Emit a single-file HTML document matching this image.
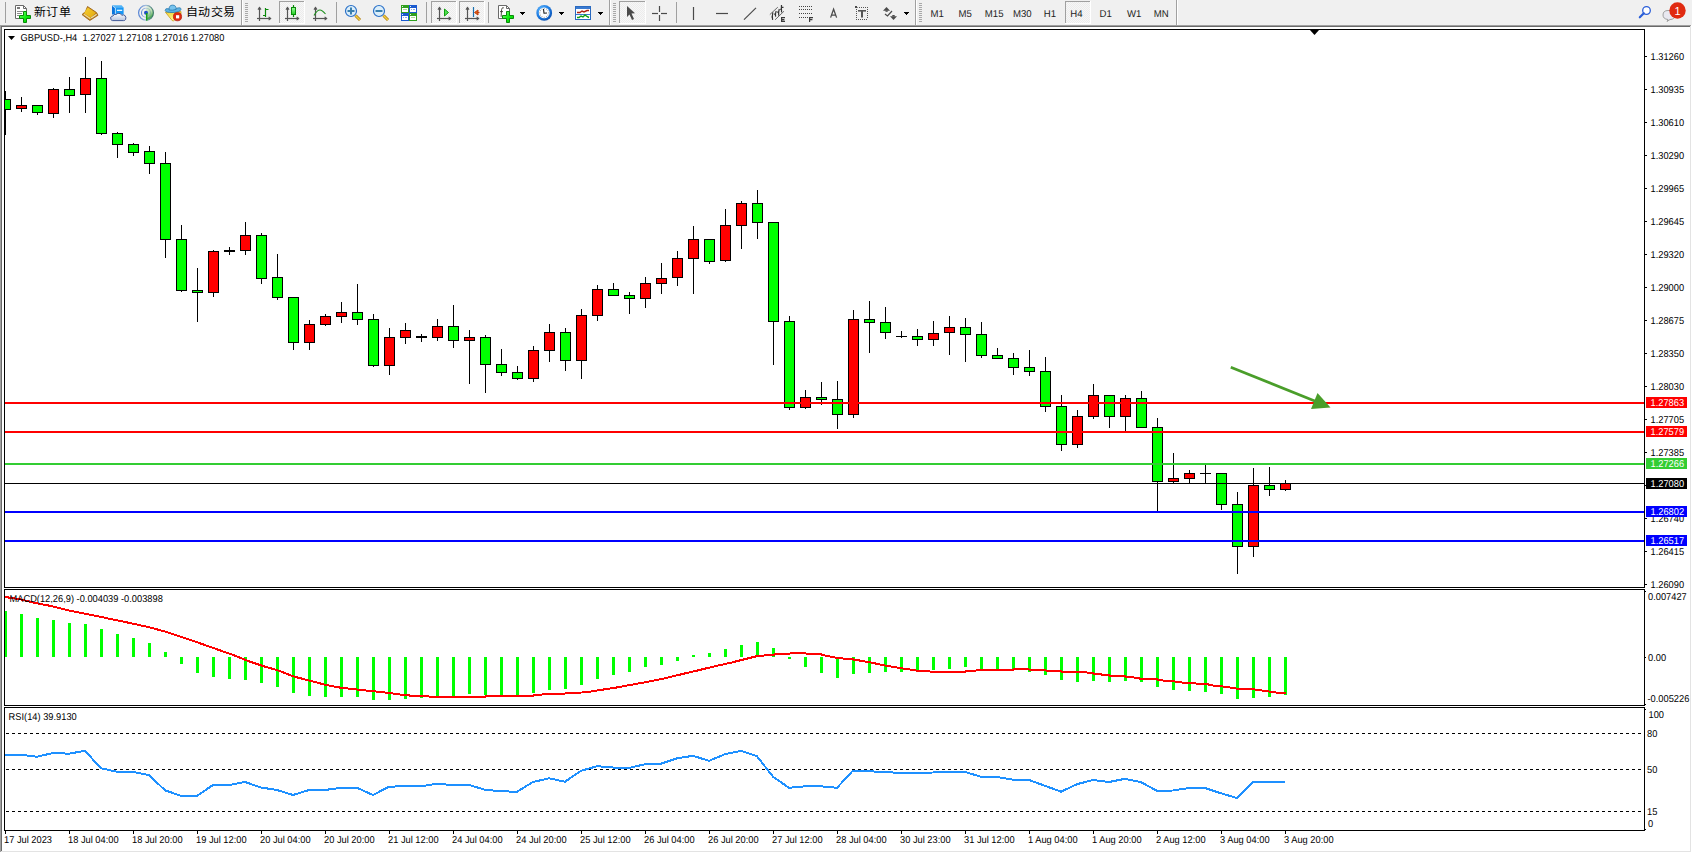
<!DOCTYPE html><html lang="zh-CN"><head><meta charset="utf-8"><title>MT4 GBPUSD H4</title><style>
html,body{margin:0;padding:0;background:#fff;}
body{width:1692px;height:853px;overflow:hidden;position:relative;font-family:"Liberation Sans", sans-serif;}
svg{position:absolute;left:0;top:0;}
text{font-family:"Liberation Sans", sans-serif;}
</style></head><body>
<svg width="1692" height="853" viewBox="0 0 1692 853">
<defs><pattern id="chk" width="2" height="2" patternUnits="userSpaceOnUse"><rect width="2" height="2" fill="#f7f7f7"/><rect width="1" height="1" fill="#ececec"/><rect x="1" y="1" width="1" height="1" fill="#ececec"/></pattern></defs>
<g shape-rendering="crispEdges">
<rect x="0" y="0" width="1692" height="25" fill="#f0f0f0"/>
<rect x="0" y="25" width="1691" height="1" fill="#a0a0a0"/>
<rect x="1" y="26" width="1690" height="1" fill="#696969"/>
<rect x="0" y="25" width="1" height="827" fill="#a0a0a0"/>
<rect x="1" y="26" width="1" height="825" fill="#696969"/>
<rect x="2" y="27" width="1688" height="824" fill="#ffffff"/>
<rect x="1690" y="26" width="1" height="826" fill="#e3e3e3"/>
<rect x="1" y="851" width="1690" height="1" fill="#e3e3e3"/>
</g>
<rect x="5" y="2" width="1" height="21" fill="#a0a0a0" shape-rendering="crispEdges"/>
<path d="M15.5 5.5 h8 l3 3 v10 h-11 z" fill="#fff" stroke="#6a6a6a" stroke-width="1"/>
<path d="M23.5 5.5 v3 h3" fill="none" stroke="#6a6a6a" stroke-width="1"/>
<rect x="17" y="7" width="3" height="2" fill="#7a7a7a"/>
<g stroke="#8a8a8a" stroke-width="1" shape-rendering="crispEdges"><line x1="17" y1="11.5" x2="23" y2="11.5"/><line x1="17" y1="13.5" x2="22" y2="13.5"/><line x1="17" y1="15.5" x2="19" y2="15.5"/></g>
<path d="M23.5 11.5 h3 v4 h4 v3 h-4 v4 h-3 v-4 h-4 v-3 h4 z" fill="url(#plusg)" stroke="#0a8a0a" stroke-width="1"/>
<text transform="matrix(1 0 0 0.92 34 16)" font-size="12" fill="#000">新订单</text>
<defs><linearGradient id="plusg" x1="0" y1="0" x2="1" y2="1"><stop offset="0" stop-color="#90ff90"/><stop offset="0.5" stop-color="#10f010"/><stop offset="1" stop-color="#00c800"/></linearGradient><linearGradient id="bookg" x1="0" y1="0" x2="1" y2="1"><stop offset="0" stop-color="#f8d030"/><stop offset="1" stop-color="#e0a810"/></linearGradient><linearGradient id="cloudg" x1="0" y1="0" x2="0" y2="1"><stop offset="0" stop-color="#ffffff"/><stop offset="1" stop-color="#b8c4dc"/></linearGradient><radialGradient id="sigg" cx="0.3" cy="0.3" r="0.9"><stop offset="0" stop-color="#f4f8ee"/><stop offset="1" stop-color="#80c080"/></radialGradient></defs>
<path d="M87.5 6.5 L96.5 12.5 L98 15.3 L89.8 20.5 L82 14.6 L85.5 11.5 Z" fill="#b87818" stroke="#9a6010" stroke-width="0.8"/>
<path d="M87.8 7.6 L95.8 12.8 L90.8 17.8 L84 13.2 Z" fill="url(#bookg)"/>
<path d="M83.3 14.6 L90 19.3 L91 18.3 L84.3 13.8 Z" fill="#f0dc90"/>
<path d="M91.5 18.5 L97 14.8 L96.3 13.8 L90.8 17.6 Z" fill="#e8e0b0"/>
<path d="M112 5.3 L121.6 5.3 L123.6 7.4 L115 7.4 Z" fill="#50b4f8"/>
<path d="M112 5.3 L115 7.4 L115 14.6 L112 14.6 Z" fill="#0a74dc"/>
<rect x="115" y="7.4" width="8.6" height="7.2" fill="#1696f4"/>
<path d="M112.4 5.8 L115.4 8 L115.4 14.2" stroke="#d8f0ff" stroke-width="0.8" fill="none"/>
<rect x="117" y="9.7" width="5.2" height="1.3" fill="#e8f6ff"/>
<path d="M111 19.4 Q109.8 16.2 113 16 Q113.6 13.8 116.2 14.4 Q117.6 12.6 120.2 13.6 Q121.3 14.3 121.8 15.3 Q123.6 14.2 125.1 15.7 Q126.5 17.6 125.5 19.6 Q125 20.6 123.5 20.6 L112.6 20.6 Q111.3 20.6 111 19.4 Z" fill="url(#cloudg)" stroke="#3a5294" stroke-width="0.95"/>
<defs><linearGradient id="sigw" x1="0" y1="0" x2="0.3" y2="1"><stop offset="0" stop-color="#f2f6ee"/><stop offset="0.55" stop-color="#b8dcb0"/><stop offset="1" stop-color="#2e9a36"/></linearGradient><linearGradient id="sigr" x1="0" y1="0" x2="1" y2="0"><stop offset="0" stop-color="#3a70d0"/><stop offset="0.5" stop-color="#9ab8d8"/><stop offset="1" stop-color="#2a6a5a"/></linearGradient><linearGradient id="sigr2" x1="0" y1="0" x2="1" y2="0"><stop offset="0" stop-color="#3a70d0"/><stop offset="0.5" stop-color="#b0c8e0"/><stop offset="1" stop-color="#80b098"/></linearGradient></defs>
<path d="M146 5.2 A7.6 7.6 0 0 1 146 20.4 Z" fill="url(#sigw)"/>
<circle cx="146" cy="12.8" r="7.4" fill="none" stroke="url(#sigr)" stroke-width="1.2" opacity="0.85"/>
<circle cx="146" cy="12.8" r="4.5" fill="none" stroke="url(#sigr2)" stroke-width="1.1" opacity="0.8"/>
<circle cx="146" cy="12.8" r="2" fill="#2050c8"/>
<path d="M146.7 13 L146.7 20.6" stroke="#18a018" stroke-width="1.5"/>
<defs><linearGradient id="faceg" x1="0" y1="0" x2="0.3" y2="1"><stop offset="0" stop-color="#f0d030"/><stop offset="1" stop-color="#fffa90"/></linearGradient></defs>
<path d="M165.4 12.2 L181 11.6 L181 14 L173.6 20.8 L172.2 20.6 Z" fill="url(#faceg)" stroke="#c89a18" stroke-width="0.8"/>
<path d="M165.2 10.6 Q165 8 168.5 8.7 Q172.5 9.9 176.5 8.3 Q181.2 6.8 181 9.4 Q180.4 12 173 12.5 Q165.6 12.7 165.2 10.6 Z" fill="#5cb2e2" stroke="#2a7ab0" stroke-width="0.8"/>
<path d="M169 10 Q168.8 5.1 172.6 5.1 Q176.2 5.1 176.2 9.4 Q172.5 10.6 169 10 Z" fill="#78c4ee" stroke="#2a7ab0" stroke-width="0.8"/>
<circle cx="177.5" cy="16.7" r="4.1" fill="#e02a10" stroke="#b01a08" stroke-width="0.7"/>
<rect x="176" y="15.2" width="3.2" height="3.2" fill="#fff"/>
<text transform="matrix(1 0 0 0.92 186 16)" font-size="12" fill="#000">自动交易</text>
<rect x="241" y="0" width="1" height="25" fill="#a0a0a0" shape-rendering="crispEdges"/>
<rect x="242" y="0" width="1" height="25" fill="#ffffff" shape-rendering="crispEdges"/>
<rect x="245" y="3" width="3" height="1" fill="#a8a8a8" shape-rendering="crispEdges"/>
<rect x="245" y="5" width="3" height="1" fill="#a8a8a8" shape-rendering="crispEdges"/>
<rect x="245" y="7" width="3" height="1" fill="#a8a8a8" shape-rendering="crispEdges"/>
<rect x="245" y="9" width="3" height="1" fill="#a8a8a8" shape-rendering="crispEdges"/>
<rect x="245" y="11" width="3" height="1" fill="#a8a8a8" shape-rendering="crispEdges"/>
<rect x="245" y="13" width="3" height="1" fill="#a8a8a8" shape-rendering="crispEdges"/>
<rect x="245" y="15" width="3" height="1" fill="#a8a8a8" shape-rendering="crispEdges"/>
<rect x="245" y="17" width="3" height="1" fill="#a8a8a8" shape-rendering="crispEdges"/>
<rect x="245" y="19" width="3" height="1" fill="#a8a8a8" shape-rendering="crispEdges"/>
<rect x="245" y="21" width="3" height="1" fill="#a8a8a8" shape-rendering="crispEdges"/>
<g stroke="#555" stroke-width="1.2" fill="none"><line x1="259.5" y1="7.5" x2="259.5" y2="21"/><line x1="257.0" y1="18.5" x2="270.6" y2="18.5"/></g>
<path d="M258.0 9.6 L259.5 7.6 L261.0 9.6" fill="none" stroke="#555" stroke-width="1.2"/>
<path d="M268.6 16.9 L270.6 18.5 L268.6 20.1" fill="none" stroke="#555" stroke-width="1.2"/>
<path d="M263 15.5 H265.5 M265.5 17 V8 M265.5 9.5 H268.5" stroke="#0a8a0a" stroke-width="1.2" fill="none"/>
<rect x="279" y="1" width="25" height="22" fill="url(#chk)" shape-rendering="crispEdges"/>
<rect x="279" y="1" width="25" height="1" fill="#a0a0a0" shape-rendering="crispEdges"/>
<rect x="279" y="1" width="1" height="22" fill="#a0a0a0" shape-rendering="crispEdges"/>
<rect x="279" y="23" width="26" height="1" fill="#ffffff" shape-rendering="crispEdges"/>
<rect x="304" y="1" width="1" height="23" fill="#ffffff" shape-rendering="crispEdges"/>
<g stroke="#555" stroke-width="1.2" fill="none"><line x1="287.5" y1="7.5" x2="287.5" y2="21"/><line x1="285.0" y1="18.5" x2="298.6" y2="18.5"/></g>
<path d="M286.0 9.6 L287.5 7.6 L289.0 9.6" fill="none" stroke="#555" stroke-width="1.2"/>
<path d="M296.6 16.9 L298.6 18.5 L296.6 20.1" fill="none" stroke="#555" stroke-width="1.2"/>
<line x1="293.5" y1="5" x2="293.5" y2="17" stroke="#0a8a0a" stroke-width="1.2"/>
<rect x="291.5" y="7.5" width="4" height="7" fill="url(#candg)" stroke="#0a8a0a" stroke-width="1"/>
<defs><linearGradient id="candg" x1="0" y1="0" x2="0" y2="1"><stop offset="0" stop-color="#a0ffa0"/><stop offset="1" stop-color="#20d020"/></linearGradient></defs>
<g stroke="#555" stroke-width="1.2" fill="none"><line x1="315.5" y1="7.5" x2="315.5" y2="21"/><line x1="313.0" y1="18.5" x2="326.6" y2="18.5"/></g>
<path d="M314.0 9.6 L315.5 7.6 L317.0 9.6" fill="none" stroke="#555" stroke-width="1.2"/>
<path d="M324.6 16.9 L326.6 18.5 L324.6 20.1" fill="none" stroke="#555" stroke-width="1.2"/>
<path d="M314 15.5 Q317 10 320 10 Q322 10 325.5 14" stroke="#209020" stroke-width="1.1" fill="none"/>
<rect x="336" y="2" width="1" height="21" fill="#a0a0a0" shape-rendering="crispEdges"/>
<line x1="355.5" y1="15.5" x2="360.0" y2="20" stroke="#b07a10" stroke-width="3"/>
<line x1="355.5" y1="15.5" x2="360.0" y2="20" stroke="#f0d040" stroke-width="1.5"/>
<circle cx="351" cy="11" r="5.5" fill="#dbeefa" stroke="#2a70c8" stroke-width="1.2"/>
<rect x="347.5" y="10" width="7" height="2" fill="#3a80b0"/>
<rect x="350" y="7.5" width="2" height="7" fill="#3a80b0"/>
<line x1="383.5" y1="15.5" x2="388.0" y2="20" stroke="#b07a10" stroke-width="3"/>
<line x1="383.5" y1="15.5" x2="388.0" y2="20" stroke="#f0d040" stroke-width="1.5"/>
<circle cx="379" cy="11" r="5.5" fill="#dbeefa" stroke="#2a70c8" stroke-width="1.2"/>
<rect x="375.5" y="10" width="7" height="2" fill="#3a80b0"/>
<rect x="401" y="5" width="8" height="8" fill="#30a020" shape-rendering="crispEdges"/>
<rect x="402" y="8" width="6" height="4" fill="#fff" shape-rendering="crispEdges"/>
<rect x="402" y="6" width="1" height="1" fill="#e8f0e8" shape-rendering="crispEdges"/>
<rect x="403" y="9" width="4" height="1" fill="#a8d898" shape-rendering="crispEdges"/>
<rect x="409" y="5" width="8" height="8" fill="#1a5ad0" shape-rendering="crispEdges"/>
<rect x="410" y="8" width="6" height="4" fill="#fff" shape-rendering="crispEdges"/>
<rect x="410" y="6" width="1" height="1" fill="#e8f0e8" shape-rendering="crispEdges"/>
<rect x="411" y="9" width="1" height="1" fill="#8aa8e8" shape-rendering="crispEdges"/>
<rect x="413" y="9" width="2" height="1" fill="#8aa8e8" shape-rendering="crispEdges"/>
<rect x="401" y="13" width="8" height="8" fill="#1a5ad0" shape-rendering="crispEdges"/>
<rect x="402" y="16" width="6" height="4" fill="#fff" shape-rendering="crispEdges"/>
<rect x="402" y="14" width="1" height="1" fill="#e8f0e8" shape-rendering="crispEdges"/>
<rect x="403" y="17" width="1" height="1" fill="#8aa8e8" shape-rendering="crispEdges"/>
<rect x="405" y="17" width="2" height="1" fill="#8aa8e8" shape-rendering="crispEdges"/>
<rect x="409" y="13" width="8" height="8" fill="#30a020" shape-rendering="crispEdges"/>
<rect x="410" y="16" width="6" height="4" fill="#fff" shape-rendering="crispEdges"/>
<rect x="410" y="14" width="1" height="1" fill="#e8f0e8" shape-rendering="crispEdges"/>
<rect x="411" y="17" width="4" height="1" fill="#a8d898" shape-rendering="crispEdges"/>
<rect x="426" y="2" width="1" height="21" fill="#a0a0a0" shape-rendering="crispEdges"/>
<rect x="431" y="1" width="25" height="22" fill="url(#chk)" shape-rendering="crispEdges"/>
<rect x="431" y="1" width="25" height="1" fill="#a0a0a0" shape-rendering="crispEdges"/>
<rect x="431" y="1" width="1" height="22" fill="#a0a0a0" shape-rendering="crispEdges"/>
<rect x="431" y="23" width="26" height="1" fill="#ffffff" shape-rendering="crispEdges"/>
<rect x="456" y="1" width="1" height="23" fill="#ffffff" shape-rendering="crispEdges"/>
<g stroke="#555" stroke-width="1.2" fill="none"><line x1="439.5" y1="7.5" x2="439.5" y2="21"/><line x1="437.0" y1="18.5" x2="450.6" y2="18.5"/></g>
<path d="M438.0 9.6 L439.5 7.6 L441.0 9.6" fill="none" stroke="#555" stroke-width="1.2"/>
<path d="M448.6 16.9 L450.6 18.5 L448.6 20.1" fill="none" stroke="#555" stroke-width="1.2"/>
<path d="M444.5 9 L448.5 12.5 L444.5 16 Z" fill="#50e050" stroke="#10a010" stroke-width="1"/>
<rect x="459" y="1" width="25" height="22" fill="url(#chk)" shape-rendering="crispEdges"/>
<rect x="459" y="1" width="25" height="1" fill="#a0a0a0" shape-rendering="crispEdges"/>
<rect x="459" y="1" width="1" height="22" fill="#a0a0a0" shape-rendering="crispEdges"/>
<rect x="459" y="23" width="26" height="1" fill="#ffffff" shape-rendering="crispEdges"/>
<rect x="484" y="1" width="1" height="23" fill="#ffffff" shape-rendering="crispEdges"/>
<g stroke="#555" stroke-width="1.2" fill="none"><line x1="467.5" y1="7.5" x2="467.5" y2="21"/><line x1="465.0" y1="18.5" x2="478.6" y2="18.5"/></g>
<path d="M466.0 9.6 L467.5 7.6 L469.0 9.6" fill="none" stroke="#555" stroke-width="1.2"/>
<path d="M476.6 16.9 L478.6 18.5 L476.6 20.1" fill="none" stroke="#555" stroke-width="1.2"/>
<line x1="473.5" y1="7" x2="473.5" y2="17" stroke="#1a70b0" stroke-width="1.2"/>
<path d="M474.5 12.5 L478 10 L478 15 Z M477 12.5 H479.5" fill="#e06010" stroke="#c04010" stroke-width="1"/>
<rect x="488" y="2" width="1" height="21" fill="#a0a0a0" shape-rendering="crispEdges"/>
<path d="M498.5 5.5 h8 l3 3 v10 h-11 z" fill="#fff" stroke="#6a6a6a" stroke-width="1"/>
<path d="M506.5 5.5 v3 h3" fill="none" stroke="#6a6a6a" stroke-width="1"/>
<path d="M503.8 7.8 Q502 7 501.6 9.5 L501.1 16.8 M500 11.6 H503" stroke="#3a3a30" stroke-width="0.9" fill="none"/>
<path d="M506.5 11.5 h3 v4 h4 v3 h-4 v4 h-3 v-4 h-4 v-3 h4 z" fill="url(#plusg)" stroke="#0a8a0a" stroke-width="1"/>
<g fill="#000" shape-rendering="crispEdges"><rect x="520" y="12" width="5" height="1"/><rect x="521" y="13" width="3" height="1"/><rect x="522" y="14" width="1" height="1"/></g>
<defs><radialGradient id="clkg" cx="0.35" cy="0.3" r="0.8"><stop offset="0" stop-color="#60b8ff"/><stop offset="0.6" stop-color="#1a78e0"/><stop offset="1" stop-color="#0a4aa8"/></radialGradient></defs>
<circle cx="544.2" cy="12.9" r="7.9" fill="url(#clkg)"/>
<circle cx="544.2" cy="12.9" r="5.4" fill="#fbfdff"/>
<rect x="543.75" y="8.05" width="0.9" height="0.9" fill="#8a8a8a"/>
<rect x="545.95" y="8.64" width="0.9" height="0.9" fill="#8a8a8a"/>
<rect x="547.56" y="10.25" width="0.9" height="0.9" fill="#8a8a8a"/>
<rect x="548.15" y="12.45" width="0.9" height="0.9" fill="#8a8a8a"/>
<rect x="547.56" y="14.65" width="0.9" height="0.9" fill="#8a8a8a"/>
<rect x="545.95" y="16.26" width="0.9" height="0.9" fill="#8a8a8a"/>
<rect x="543.75" y="16.85" width="0.9" height="0.9" fill="#8a8a8a"/>
<rect x="541.55" y="16.26" width="0.9" height="0.9" fill="#8a8a8a"/>
<rect x="539.94" y="14.65" width="0.9" height="0.9" fill="#8a8a8a"/>
<rect x="539.35" y="12.45" width="0.9" height="0.9" fill="#8a8a8a"/>
<rect x="539.94" y="10.25" width="0.9" height="0.9" fill="#8a8a8a"/>
<rect x="541.55" y="8.64" width="0.9" height="0.9" fill="#8a8a8a"/>
<path d="M543.5 9 L544 13.2 L547 13" stroke="#1a1a1a" stroke-width="1.1" fill="none"/>
<g fill="#000" shape-rendering="crispEdges"><rect x="559" y="12" width="5" height="1"/><rect x="560" y="13" width="3" height="1"/><rect x="561" y="14" width="1" height="1"/></g>
<rect x="575.5" y="6.5" width="15" height="13" fill="#fff" stroke="#2a6ac0" stroke-width="1"/>
<rect x="576" y="7" width="14" height="2" fill="#3a7ad0"/>
<rect x="576" y="14" width="14" height="1" fill="#3a7ad0"/>
<path d="M577 12.5 L580 12.5 L582 11 L584 12 L587 10.5 L589 10.5" stroke="#b02010" stroke-width="1.4" fill="none"/>
<path d="M577 17.5 L579 17.5 L581 16 L583 17 L585 15 L587 16.5 L589 17.5" stroke="#10a010" stroke-width="1.4" fill="none"/>
<g fill="#000" shape-rendering="crispEdges"><rect x="598" y="12" width="5" height="1"/><rect x="599" y="13" width="3" height="1"/><rect x="600" y="14" width="1" height="1"/></g>
<rect x="609" y="0" width="1" height="25" fill="#a0a0a0" shape-rendering="crispEdges"/>
<rect x="610" y="0" width="1" height="25" fill="#ffffff" shape-rendering="crispEdges"/>
<rect x="613" y="3" width="3" height="1" fill="#a8a8a8" shape-rendering="crispEdges"/>
<rect x="613" y="5" width="3" height="1" fill="#a8a8a8" shape-rendering="crispEdges"/>
<rect x="613" y="7" width="3" height="1" fill="#a8a8a8" shape-rendering="crispEdges"/>
<rect x="613" y="9" width="3" height="1" fill="#a8a8a8" shape-rendering="crispEdges"/>
<rect x="613" y="11" width="3" height="1" fill="#a8a8a8" shape-rendering="crispEdges"/>
<rect x="613" y="13" width="3" height="1" fill="#a8a8a8" shape-rendering="crispEdges"/>
<rect x="613" y="15" width="3" height="1" fill="#a8a8a8" shape-rendering="crispEdges"/>
<rect x="613" y="17" width="3" height="1" fill="#a8a8a8" shape-rendering="crispEdges"/>
<rect x="613" y="19" width="3" height="1" fill="#a8a8a8" shape-rendering="crispEdges"/>
<rect x="613" y="21" width="3" height="1" fill="#a8a8a8" shape-rendering="crispEdges"/>
<rect x="619" y="1" width="26" height="22" fill="url(#chk)" shape-rendering="crispEdges"/>
<rect x="619" y="1" width="26" height="1" fill="#a0a0a0" shape-rendering="crispEdges"/>
<rect x="619" y="1" width="1" height="22" fill="#a0a0a0" shape-rendering="crispEdges"/>
<rect x="619" y="23" width="27" height="1" fill="#ffffff" shape-rendering="crispEdges"/>
<rect x="645" y="1" width="1" height="23" fill="#ffffff" shape-rendering="crispEdges"/>
<path d="M627 6 L627 17 L629.5 14.5 L632 20 L634 19 L631.5 13.5 L635 13.3 Z" fill="#4a4a4a"/>
<g stroke="#4a4a4a" stroke-width="1.2"><line x1="652" y1="13.5" x2="658" y2="13.5"/><line x1="661" y1="13.5" x2="667" y2="13.5"/><line x1="659.5" y1="6" x2="659.5" y2="12"/><line x1="659.5" y1="15" x2="659.5" y2="21"/></g>
<rect x="676" y="2" width="1" height="21" fill="#a0a0a0" shape-rendering="crispEdges"/>
<line x1="693.5" y1="7" x2="693.5" y2="20" stroke="#4a4a4a" stroke-width="1.2"/>
<line x1="716" y1="13.5" x2="728" y2="13.5" stroke="#4a4a4a" stroke-width="1.2"/>
<line x1="744" y1="19.6" x2="756" y2="7.9" stroke="#4a4a4a" stroke-width="1.2"/>
<g stroke="#5a5a5a" stroke-width="0.9"><line x1="769.8" y1="14.6" x2="777.8" y2="7.2"/><line x1="775.1" y1="19.8" x2="784" y2="11.2"/></g>
<g stroke="#333" stroke-width="1.2" fill="none"><path d="M772.6 19.8 Q771.9 16 772.9 12.3"/><path d="M775.6 16.6 Q775 14 776.2 11"/><path d="M778.7 15.6 Q778.2 12 779.3 9"/><path d="M781.6 12.4 Q781.2 8 781.5 5"/><path d="M771.5 17 h1.5 M774.2 14.2 h1.5 M777.2 12.2 h1.5 M780.3 9.3 h1.6 M782 7.3 h1.5"/></g>
<path d="M781.6 17 V22 M781 17.6 H785 M781 19.6 H784.4 M781 21.4 H785" stroke="#3a3a3a" stroke-width="1.2" fill="none"/>
<line x1="799" y1="6.5" x2="812" y2="6.5" stroke="#444" stroke-width="1" stroke-dasharray="1,1"/>
<line x1="799" y1="9.5" x2="812" y2="9.5" stroke="#444" stroke-width="1" stroke-dasharray="1,1"/>
<line x1="799" y1="13.5" x2="812" y2="13.5" stroke="#444" stroke-width="1" stroke-dasharray="1,1"/>
<line x1="799" y1="17.5" x2="812" y2="17.5" stroke="#444" stroke-width="1" stroke-dasharray="1,1"/>
<path d="M809.6 17 V22 M809 17.6 H813 M809 19.6 H812.4" stroke="#3a3a3a" stroke-width="1.2" fill="none"/>
<path d="M830.6 17.6 L833.6 9.2 L836.6 17.6 M831.6 15.1 H835.6" fill="none" stroke="#4a4a4a" stroke-width="1.25"/>
<rect x="859" y="7" width="1" height="1" fill="#555" shape-rendering="crispEdges"/>
<rect x="861" y="7" width="1" height="1" fill="#555" shape-rendering="crispEdges"/>
<rect x="863" y="7" width="1" height="1" fill="#555" shape-rendering="crispEdges"/>
<rect x="865" y="7" width="1" height="1" fill="#555" shape-rendering="crispEdges"/>
<rect x="867" y="7" width="1" height="1" fill="#555" shape-rendering="crispEdges"/>
<rect x="856" y="19" width="1" height="1" fill="#555" shape-rendering="crispEdges"/>
<rect x="858" y="19" width="1" height="1" fill="#555" shape-rendering="crispEdges"/>
<rect x="860" y="19" width="1" height="1" fill="#555" shape-rendering="crispEdges"/>
<rect x="862" y="19" width="1" height="1" fill="#555" shape-rendering="crispEdges"/>
<rect x="864" y="19" width="1" height="1" fill="#555" shape-rendering="crispEdges"/>
<rect x="866" y="19" width="1" height="1" fill="#555" shape-rendering="crispEdges"/>
<rect x="856" y="9" width="1" height="1" fill="#555" shape-rendering="crispEdges"/>
<rect x="867" y="9" width="1" height="1" fill="#555" shape-rendering="crispEdges"/>
<rect x="856" y="11" width="1" height="1" fill="#555" shape-rendering="crispEdges"/>
<rect x="867" y="11" width="1" height="1" fill="#555" shape-rendering="crispEdges"/>
<rect x="856" y="13" width="1" height="1" fill="#555" shape-rendering="crispEdges"/>
<rect x="867" y="13" width="1" height="1" fill="#555" shape-rendering="crispEdges"/>
<rect x="856" y="15" width="1" height="1" fill="#555" shape-rendering="crispEdges"/>
<rect x="867" y="15" width="1" height="1" fill="#555" shape-rendering="crispEdges"/>
<rect x="856" y="17" width="1" height="1" fill="#555" shape-rendering="crispEdges"/>
<rect x="867" y="17" width="1" height="1" fill="#555" shape-rendering="crispEdges"/>
<rect x="855" y="6" width="2" height="2" fill="#4a4a4a" shape-rendering="crispEdges"/>
<rect x="857" y="7" width="1" height="1" fill="#8a8a8a" shape-rendering="crispEdges"/>
<rect x="858" y="10" width="8" height="1.6" fill="#555"/>
<rect x="861" y="10" width="2" height="7.5" fill="#555"/>
<polygon points="883,10.8 886.5,7 890,10.8" fill="#4a4a4a"/>
<rect x="885.5" y="10.5" width="2.2" height="1.3" fill="#4a4a4a"/>
<polyline points="885,14 887.5,16 892,11" fill="none" stroke="#4a4a4a" stroke-width="1.2"/>
<polygon points="890,16.2 897,16.2 893.5,20" fill="#4a4a4a"/>
<rect x="892.3" y="15" width="2.4" height="1.4" fill="#4a4a4a"/>
<g fill="#000" shape-rendering="crispEdges"><rect x="904" y="12" width="5" height="1"/><rect x="905" y="13" width="3" height="1"/><rect x="906" y="14" width="1" height="1"/></g>
<rect x="915" y="0" width="1" height="25" fill="#a0a0a0" shape-rendering="crispEdges"/>
<rect x="916" y="0" width="1" height="25" fill="#ffffff" shape-rendering="crispEdges"/>
<rect x="919" y="3" width="3" height="1" fill="#a8a8a8" shape-rendering="crispEdges"/>
<rect x="919" y="5" width="3" height="1" fill="#a8a8a8" shape-rendering="crispEdges"/>
<rect x="919" y="7" width="3" height="1" fill="#a8a8a8" shape-rendering="crispEdges"/>
<rect x="919" y="9" width="3" height="1" fill="#a8a8a8" shape-rendering="crispEdges"/>
<rect x="919" y="11" width="3" height="1" fill="#a8a8a8" shape-rendering="crispEdges"/>
<rect x="919" y="13" width="3" height="1" fill="#a8a8a8" shape-rendering="crispEdges"/>
<rect x="919" y="15" width="3" height="1" fill="#a8a8a8" shape-rendering="crispEdges"/>
<rect x="919" y="17" width="3" height="1" fill="#a8a8a8" shape-rendering="crispEdges"/>
<rect x="919" y="19" width="3" height="1" fill="#a8a8a8" shape-rendering="crispEdges"/>
<rect x="919" y="21" width="3" height="1" fill="#a8a8a8" shape-rendering="crispEdges"/>
<rect x="1065" y="1" width="25" height="22" fill="url(#chk)" shape-rendering="crispEdges"/>
<rect x="1065" y="1" width="25" height="1" fill="#a0a0a0" shape-rendering="crispEdges"/>
<rect x="1065" y="1" width="1" height="22" fill="#a0a0a0" shape-rendering="crispEdges"/>
<rect x="1065" y="23" width="26" height="1" fill="#ffffff" shape-rendering="crispEdges"/>
<rect x="1090" y="1" width="1" height="23" fill="#ffffff" shape-rendering="crispEdges"/>
<text transform="matrix(0.96 0 0.001 1 930.5 17)" font-size="10" fill="#222">M1</text>
<text transform="matrix(0.96 0 0.001 1 958.6 17)" font-size="10" fill="#222">M5</text>
<text transform="matrix(0.96 0 0.001 1 984.8 17)" font-size="10" fill="#222">M15</text>
<text transform="matrix(0.96 0 0.001 1 1012.9 17)" font-size="10" fill="#222">M30</text>
<text transform="matrix(0.96 0 0.001 1 1043.7 17)" font-size="10" fill="#222">H1</text>
<text transform="matrix(0.96 0 0.001 1 1070.3 17)" font-size="10" fill="#222">H4</text>
<text transform="matrix(0.96 0 0.001 1 1099.6 17)" font-size="10" fill="#222">D1</text>
<text transform="matrix(0.96 0 0.001 1 1127.0 17)" font-size="10" fill="#222">W1</text>
<text transform="matrix(0.96 0 0.001 1 1153.7 17)" font-size="10" fill="#222">MN</text>
<rect x="1176" y="0" width="1" height="25" fill="#a0a0a0" shape-rendering="crispEdges"/>
<rect x="1177" y="0" width="1" height="25" fill="#ffffff" shape-rendering="crispEdges"/>
<circle cx="1646.5" cy="10.5" r="3.8" fill="#fff" stroke="#2a5ed8" stroke-width="1.3"/>
<line x1="1643.8" y1="13.3" x2="1639.8" y2="17.3" stroke="#2a5ed8" stroke-width="2.2" stroke-linecap="round"/>
<path d="M1668 10.5 q-5 0 -5 4.5 q0 4 5 4.5 l-1 2 l3 -2 q5 0 5 -4.5 q0 -4.5 -5 -4.5 z" fill="#e8e8f0" stroke="#a0a0a0" stroke-width="1"/>
<circle cx="1677.5" cy="10.5" r="8.2" fill="#e02a10"/>
<text x="1677.5" y="14.8" font-size="11" fill="#fff" text-anchor="middle" font-family="Liberation Serif, serif">1</text>
<g shape-rendering="crispEdges">
<rect x="4" y="29" width="1641" height="1" fill="#000"/>
<rect x="4" y="587" width="1641" height="1" fill="#000"/>
<rect x="4" y="29" width="1" height="559" fill="#000"/>
<rect x="1644" y="29" width="1" height="559" fill="#000"/>
<rect x="4" y="589" width="1641" height="1" fill="#000"/>
<rect x="4" y="705" width="1641" height="1" fill="#000"/>
<rect x="4" y="589" width="1" height="117" fill="#000"/>
<rect x="1644" y="589" width="1" height="117" fill="#000"/>
<rect x="4" y="707" width="1641" height="1" fill="#000"/>
<rect x="4" y="830" width="1641" height="1" fill="#000"/>
<rect x="4" y="707" width="1" height="124" fill="#000"/>
<rect x="1644" y="707" width="1" height="124" fill="#000"/>
<rect x="1645" y="56" width="2" height="1" fill="#000"/>
<rect x="1645" y="89" width="2" height="1" fill="#000"/>
<rect x="1645" y="122" width="2" height="1" fill="#000"/>
<rect x="1645" y="155" width="2" height="1" fill="#000"/>
<rect x="1645" y="188" width="2" height="1" fill="#000"/>
<rect x="1645" y="221" width="2" height="1" fill="#000"/>
<rect x="1645" y="254" width="2" height="1" fill="#000"/>
<rect x="1645" y="287" width="2" height="1" fill="#000"/>
<rect x="1645" y="320" width="2" height="1" fill="#000"/>
<rect x="1645" y="353" width="2" height="1" fill="#000"/>
<rect x="1645" y="386" width="2" height="1" fill="#000"/>
<rect x="1645" y="419" width="2" height="1" fill="#000"/>
<rect x="1645" y="452" width="2" height="1" fill="#000"/>
<rect x="1645" y="485" width="2" height="1" fill="#000"/>
<rect x="1645" y="518" width="2" height="1" fill="#000"/>
<rect x="1645" y="551" width="2" height="1" fill="#000"/>
<rect x="1645" y="584" width="2" height="1" fill="#000"/>
<rect x="1645" y="591" width="1" height="1" fill="#000"/>
<rect x="1645" y="657" width="1" height="1" fill="#000"/>
<rect x="1645" y="704" width="1" height="1" fill="#000"/>
<rect x="1645" y="709" width="1" height="1" fill="#000"/>
<rect x="1645" y="829" width="1" height="1" fill="#000"/>
<rect x="5" y="831" width="1" height="3" fill="#000"/>
<rect x="69" y="831" width="1" height="3" fill="#000"/>
<rect x="133" y="831" width="1" height="3" fill="#000"/>
<rect x="197" y="831" width="1" height="3" fill="#000"/>
<rect x="261" y="831" width="1" height="3" fill="#000"/>
<rect x="325" y="831" width="1" height="3" fill="#000"/>
<rect x="389" y="831" width="1" height="3" fill="#000"/>
<rect x="453" y="831" width="1" height="3" fill="#000"/>
<rect x="517" y="831" width="1" height="3" fill="#000"/>
<rect x="581" y="831" width="1" height="3" fill="#000"/>
<rect x="645" y="831" width="1" height="3" fill="#000"/>
<rect x="709" y="831" width="1" height="3" fill="#000"/>
<rect x="773" y="831" width="1" height="3" fill="#000"/>
<rect x="837" y="831" width="1" height="3" fill="#000"/>
<rect x="901" y="831" width="1" height="3" fill="#000"/>
<rect x="965" y="831" width="1" height="3" fill="#000"/>
<rect x="1029" y="831" width="1" height="3" fill="#000"/>
<rect x="1093" y="831" width="1" height="3" fill="#000"/>
<rect x="1157" y="831" width="1" height="3" fill="#000"/>
<rect x="1221" y="831" width="1" height="3" fill="#000"/>
<rect x="1285" y="831" width="1" height="3" fill="#000"/>
</g>
<svg x="5" y="30" width="1639" height="557" viewBox="5 30 1639 557" overflow="hidden">
<g shape-rendering="crispEdges">
<rect x="5" y="91" width="1" height="44" fill="#000"/>
<rect x="0" y="99" width="11" height="11" fill="#000"/>
<rect x="1" y="100" width="9" height="9" fill="#00ff00"/>
<rect x="21" y="97" width="1" height="15" fill="#000"/>
<rect x="16" y="105" width="11" height="4" fill="#000"/>
<rect x="17" y="106" width="9" height="2" fill="#ff0000"/>
<rect x="37" y="105" width="1" height="10" fill="#000"/>
<rect x="32" y="105" width="11" height="8" fill="#000"/>
<rect x="33" y="106" width="9" height="6" fill="#00ff00"/>
<rect x="53" y="88" width="1" height="30" fill="#000"/>
<rect x="48" y="89" width="11" height="25" fill="#000"/>
<rect x="49" y="90" width="9" height="23" fill="#ff0000"/>
<rect x="69" y="77" width="1" height="36" fill="#000"/>
<rect x="64" y="89" width="11" height="7" fill="#000"/>
<rect x="65" y="90" width="9" height="5" fill="#00ff00"/>
<rect x="85" y="57" width="1" height="56" fill="#000"/>
<rect x="80" y="78" width="11" height="17" fill="#000"/>
<rect x="81" y="79" width="9" height="15" fill="#ff0000"/>
<rect x="101" y="61" width="1" height="74" fill="#000"/>
<rect x="96" y="78" width="11" height="56" fill="#000"/>
<rect x="97" y="79" width="9" height="54" fill="#00ff00"/>
<rect x="117" y="132" width="1" height="26" fill="#000"/>
<rect x="112" y="133" width="11" height="12" fill="#000"/>
<rect x="113" y="134" width="9" height="10" fill="#00ff00"/>
<rect x="133" y="143" width="1" height="13" fill="#000"/>
<rect x="128" y="144" width="11" height="9" fill="#000"/>
<rect x="129" y="145" width="9" height="7" fill="#00ff00"/>
<rect x="149" y="146" width="1" height="28" fill="#000"/>
<rect x="144" y="151" width="11" height="13" fill="#000"/>
<rect x="145" y="152" width="9" height="11" fill="#00ff00"/>
<rect x="165" y="152" width="1" height="106" fill="#000"/>
<rect x="160" y="163" width="11" height="77" fill="#000"/>
<rect x="161" y="164" width="9" height="75" fill="#00ff00"/>
<rect x="181" y="225" width="1" height="67" fill="#000"/>
<rect x="176" y="239" width="11" height="52" fill="#000"/>
<rect x="177" y="240" width="9" height="50" fill="#00ff00"/>
<rect x="197" y="268" width="1" height="54" fill="#000"/>
<rect x="192" y="290" width="11" height="3" fill="#000"/>
<rect x="193" y="291" width="9" height="1" fill="#00ff00"/>
<rect x="213" y="250" width="1" height="47" fill="#000"/>
<rect x="208" y="251" width="11" height="42" fill="#000"/>
<rect x="209" y="252" width="9" height="40" fill="#ff0000"/>
<rect x="229" y="247" width="1" height="8" fill="#000"/>
<rect x="224" y="250" width="11" height="2" fill="#000"/>
<rect x="245" y="222" width="1" height="33" fill="#000"/>
<rect x="240" y="235" width="11" height="16" fill="#000"/>
<rect x="241" y="236" width="9" height="14" fill="#ff0000"/>
<rect x="261" y="233" width="1" height="51" fill="#000"/>
<rect x="256" y="235" width="11" height="44" fill="#000"/>
<rect x="257" y="236" width="9" height="42" fill="#00ff00"/>
<rect x="277" y="254" width="1" height="46" fill="#000"/>
<rect x="272" y="277" width="11" height="21" fill="#000"/>
<rect x="273" y="278" width="9" height="19" fill="#00ff00"/>
<rect x="293" y="297" width="1" height="53" fill="#000"/>
<rect x="288" y="297" width="11" height="46" fill="#000"/>
<rect x="289" y="298" width="9" height="44" fill="#00ff00"/>
<rect x="309" y="320" width="1" height="30" fill="#000"/>
<rect x="304" y="324" width="11" height="19" fill="#000"/>
<rect x="305" y="325" width="9" height="17" fill="#ff0000"/>
<rect x="325" y="314" width="1" height="12" fill="#000"/>
<rect x="320" y="316" width="11" height="9" fill="#000"/>
<rect x="321" y="317" width="9" height="7" fill="#ff0000"/>
<rect x="341" y="302" width="1" height="21" fill="#000"/>
<rect x="336" y="312" width="11" height="5" fill="#000"/>
<rect x="337" y="313" width="9" height="3" fill="#ff0000"/>
<rect x="357" y="284" width="1" height="41" fill="#000"/>
<rect x="352" y="312" width="11" height="8" fill="#000"/>
<rect x="353" y="313" width="9" height="6" fill="#00ff00"/>
<rect x="373" y="314" width="1" height="53" fill="#000"/>
<rect x="368" y="319" width="11" height="47" fill="#000"/>
<rect x="369" y="320" width="9" height="45" fill="#00ff00"/>
<rect x="389" y="328" width="1" height="47" fill="#000"/>
<rect x="384" y="337" width="11" height="29" fill="#000"/>
<rect x="385" y="338" width="9" height="27" fill="#ff0000"/>
<rect x="405" y="323" width="1" height="21" fill="#000"/>
<rect x="400" y="330" width="11" height="8" fill="#000"/>
<rect x="401" y="331" width="9" height="6" fill="#ff0000"/>
<rect x="421" y="334" width="1" height="8" fill="#000"/>
<rect x="416" y="336" width="11" height="2" fill="#000"/>
<rect x="437" y="319" width="1" height="22" fill="#000"/>
<rect x="432" y="326" width="11" height="12" fill="#000"/>
<rect x="433" y="327" width="9" height="10" fill="#ff0000"/>
<rect x="453" y="305" width="1" height="43" fill="#000"/>
<rect x="448" y="326" width="11" height="15" fill="#000"/>
<rect x="449" y="327" width="9" height="13" fill="#00ff00"/>
<rect x="469" y="330" width="1" height="54" fill="#000"/>
<rect x="464" y="337" width="11" height="4" fill="#000"/>
<rect x="465" y="338" width="9" height="2" fill="#ff0000"/>
<rect x="485" y="335" width="1" height="58" fill="#000"/>
<rect x="480" y="337" width="11" height="28" fill="#000"/>
<rect x="481" y="338" width="9" height="26" fill="#00ff00"/>
<rect x="501" y="349" width="1" height="27" fill="#000"/>
<rect x="496" y="364" width="11" height="9" fill="#000"/>
<rect x="497" y="365" width="9" height="7" fill="#00ff00"/>
<rect x="517" y="366" width="1" height="14" fill="#000"/>
<rect x="512" y="372" width="11" height="7" fill="#000"/>
<rect x="513" y="373" width="9" height="5" fill="#00ff00"/>
<rect x="533" y="346" width="1" height="36" fill="#000"/>
<rect x="528" y="350" width="11" height="29" fill="#000"/>
<rect x="529" y="351" width="9" height="27" fill="#ff0000"/>
<rect x="549" y="324" width="1" height="38" fill="#000"/>
<rect x="544" y="332" width="11" height="19" fill="#000"/>
<rect x="545" y="333" width="9" height="17" fill="#ff0000"/>
<rect x="565" y="328" width="1" height="43" fill="#000"/>
<rect x="560" y="332" width="11" height="29" fill="#000"/>
<rect x="561" y="333" width="9" height="27" fill="#00ff00"/>
<rect x="581" y="309" width="1" height="70" fill="#000"/>
<rect x="576" y="315" width="11" height="46" fill="#000"/>
<rect x="577" y="316" width="9" height="44" fill="#ff0000"/>
<rect x="597" y="285" width="1" height="36" fill="#000"/>
<rect x="592" y="289" width="11" height="27" fill="#000"/>
<rect x="593" y="290" width="9" height="25" fill="#ff0000"/>
<rect x="613" y="283" width="1" height="13" fill="#000"/>
<rect x="608" y="289" width="11" height="7" fill="#000"/>
<rect x="609" y="290" width="9" height="5" fill="#00ff00"/>
<rect x="629" y="292" width="1" height="22" fill="#000"/>
<rect x="624" y="295" width="11" height="4" fill="#000"/>
<rect x="625" y="296" width="9" height="2" fill="#00ff00"/>
<rect x="645" y="277" width="1" height="31" fill="#000"/>
<rect x="640" y="283" width="11" height="16" fill="#000"/>
<rect x="641" y="284" width="9" height="14" fill="#ff0000"/>
<rect x="661" y="263" width="1" height="31" fill="#000"/>
<rect x="656" y="278" width="11" height="6" fill="#000"/>
<rect x="657" y="279" width="9" height="4" fill="#ff0000"/>
<rect x="677" y="251" width="1" height="35" fill="#000"/>
<rect x="672" y="258" width="11" height="20" fill="#000"/>
<rect x="673" y="259" width="9" height="18" fill="#ff0000"/>
<rect x="693" y="226" width="1" height="68" fill="#000"/>
<rect x="688" y="239" width="11" height="20" fill="#000"/>
<rect x="689" y="240" width="9" height="18" fill="#ff0000"/>
<rect x="709" y="239" width="1" height="25" fill="#000"/>
<rect x="704" y="239" width="11" height="23" fill="#000"/>
<rect x="705" y="240" width="9" height="21" fill="#00ff00"/>
<rect x="725" y="209" width="1" height="53" fill="#000"/>
<rect x="720" y="225" width="11" height="36" fill="#000"/>
<rect x="721" y="226" width="9" height="34" fill="#ff0000"/>
<rect x="741" y="201" width="1" height="48" fill="#000"/>
<rect x="736" y="203" width="11" height="23" fill="#000"/>
<rect x="737" y="204" width="9" height="21" fill="#ff0000"/>
<rect x="757" y="190" width="1" height="49" fill="#000"/>
<rect x="752" y="203" width="11" height="20" fill="#000"/>
<rect x="753" y="204" width="9" height="18" fill="#00ff00"/>
<rect x="773" y="222" width="1" height="143" fill="#000"/>
<rect x="768" y="222" width="11" height="100" fill="#000"/>
<rect x="769" y="223" width="9" height="98" fill="#00ff00"/>
<rect x="789" y="316" width="1" height="94" fill="#000"/>
<rect x="784" y="321" width="11" height="87" fill="#000"/>
<rect x="785" y="322" width="9" height="85" fill="#00ff00"/>
<rect x="805" y="390" width="1" height="19" fill="#000"/>
<rect x="800" y="397" width="11" height="11" fill="#000"/>
<rect x="801" y="398" width="9" height="9" fill="#ff0000"/>
<rect x="821" y="382" width="1" height="23" fill="#000"/>
<rect x="816" y="397" width="11" height="3" fill="#000"/>
<rect x="817" y="398" width="9" height="1" fill="#00ff00"/>
<rect x="837" y="381" width="1" height="48" fill="#000"/>
<rect x="832" y="399" width="11" height="16" fill="#000"/>
<rect x="833" y="400" width="9" height="14" fill="#00ff00"/>
<rect x="853" y="310" width="1" height="108" fill="#000"/>
<rect x="848" y="319" width="11" height="96" fill="#000"/>
<rect x="849" y="320" width="9" height="94" fill="#ff0000"/>
<rect x="869" y="301" width="1" height="52" fill="#000"/>
<rect x="864" y="319" width="11" height="4" fill="#000"/>
<rect x="865" y="320" width="9" height="2" fill="#00ff00"/>
<rect x="885" y="307" width="1" height="32" fill="#000"/>
<rect x="880" y="322" width="11" height="11" fill="#000"/>
<rect x="881" y="323" width="9" height="9" fill="#00ff00"/>
<rect x="901" y="331" width="1" height="7" fill="#000"/>
<rect x="896" y="336" width="11" height="1" fill="#000"/>
<rect x="917" y="329" width="1" height="17" fill="#000"/>
<rect x="912" y="336" width="11" height="4" fill="#000"/>
<rect x="913" y="337" width="9" height="2" fill="#00ff00"/>
<rect x="933" y="321" width="1" height="25" fill="#000"/>
<rect x="928" y="333" width="11" height="7" fill="#000"/>
<rect x="929" y="334" width="9" height="5" fill="#ff0000"/>
<rect x="949" y="316" width="1" height="39" fill="#000"/>
<rect x="944" y="327" width="11" height="6" fill="#000"/>
<rect x="945" y="328" width="9" height="4" fill="#ff0000"/>
<rect x="965" y="318" width="1" height="44" fill="#000"/>
<rect x="960" y="327" width="11" height="8" fill="#000"/>
<rect x="961" y="328" width="9" height="6" fill="#00ff00"/>
<rect x="981" y="322" width="1" height="36" fill="#000"/>
<rect x="976" y="334" width="11" height="22" fill="#000"/>
<rect x="977" y="335" width="9" height="20" fill="#00ff00"/>
<rect x="997" y="348" width="1" height="11" fill="#000"/>
<rect x="992" y="355" width="11" height="4" fill="#000"/>
<rect x="993" y="356" width="9" height="2" fill="#00ff00"/>
<rect x="1013" y="353" width="1" height="22" fill="#000"/>
<rect x="1008" y="358" width="11" height="10" fill="#000"/>
<rect x="1009" y="359" width="9" height="8" fill="#00ff00"/>
<rect x="1029" y="350" width="1" height="26" fill="#000"/>
<rect x="1024" y="367" width="11" height="5" fill="#000"/>
<rect x="1025" y="368" width="9" height="3" fill="#00ff00"/>
<rect x="1045" y="357" width="1" height="55" fill="#000"/>
<rect x="1040" y="371" width="11" height="36" fill="#000"/>
<rect x="1041" y="372" width="9" height="34" fill="#00ff00"/>
<rect x="1061" y="395" width="1" height="56" fill="#000"/>
<rect x="1056" y="406" width="11" height="39" fill="#000"/>
<rect x="1057" y="407" width="9" height="37" fill="#00ff00"/>
<rect x="1077" y="410" width="1" height="38" fill="#000"/>
<rect x="1072" y="416" width="11" height="29" fill="#000"/>
<rect x="1073" y="417" width="9" height="27" fill="#ff0000"/>
<rect x="1093" y="384" width="1" height="35" fill="#000"/>
<rect x="1088" y="395" width="11" height="22" fill="#000"/>
<rect x="1089" y="396" width="9" height="20" fill="#ff0000"/>
<rect x="1109" y="395" width="1" height="33" fill="#000"/>
<rect x="1104" y="395" width="11" height="22" fill="#000"/>
<rect x="1105" y="396" width="9" height="20" fill="#00ff00"/>
<rect x="1125" y="395" width="1" height="36" fill="#000"/>
<rect x="1120" y="398" width="11" height="19" fill="#000"/>
<rect x="1121" y="399" width="9" height="17" fill="#ff0000"/>
<rect x="1141" y="391" width="1" height="37" fill="#000"/>
<rect x="1136" y="398" width="11" height="30" fill="#000"/>
<rect x="1137" y="399" width="9" height="28" fill="#00ff00"/>
<rect x="1157" y="418" width="1" height="93" fill="#000"/>
<rect x="1152" y="427" width="11" height="55" fill="#000"/>
<rect x="1153" y="428" width="9" height="53" fill="#00ff00"/>
<rect x="1173" y="453" width="1" height="30" fill="#000"/>
<rect x="1168" y="478" width="11" height="4" fill="#000"/>
<rect x="1169" y="479" width="9" height="2" fill="#ff0000"/>
<rect x="1189" y="470" width="1" height="13" fill="#000"/>
<rect x="1184" y="473" width="11" height="6" fill="#000"/>
<rect x="1185" y="474" width="9" height="4" fill="#ff0000"/>
<rect x="1205" y="465" width="1" height="18" fill="#000"/>
<rect x="1200" y="473" width="11" height="1" fill="#000"/>
<rect x="1221" y="473" width="1" height="37" fill="#000"/>
<rect x="1216" y="473" width="11" height="32" fill="#000"/>
<rect x="1217" y="474" width="9" height="30" fill="#00ff00"/>
<rect x="1237" y="492" width="1" height="82" fill="#000"/>
<rect x="1232" y="504" width="11" height="43" fill="#000"/>
<rect x="1233" y="505" width="9" height="41" fill="#00ff00"/>
<rect x="1253" y="468" width="1" height="89" fill="#000"/>
<rect x="1248" y="485" width="11" height="62" fill="#000"/>
<rect x="1249" y="486" width="9" height="60" fill="#ff0000"/>
<rect x="1269" y="467" width="1" height="29" fill="#000"/>
<rect x="1264" y="485" width="11" height="5" fill="#000"/>
<rect x="1265" y="486" width="9" height="3" fill="#00ff00"/>
<rect x="1285" y="480" width="1" height="11" fill="#000"/>
<rect x="1280" y="483" width="11" height="7" fill="#000"/>
<rect x="1281" y="484" width="9" height="5" fill="#ff0000"/>
<rect x="5" y="402" width="1639" height="2" fill="#ff0000"/>
<rect x="5" y="431" width="1639" height="2" fill="#ff0000"/>
<rect x="5" y="463" width="1639" height="2" fill="#32cd32"/>
<rect x="5" y="483" width="1639" height="1" fill="#000000"/>
<rect x="5" y="511" width="1639" height="2" fill="#0000ff"/>
<rect x="5" y="540" width="1639" height="2" fill="#0000ff"/>
</g>
<line x1="1230.8" y1="367.3" x2="1316" y2="401.5" stroke="#4a9e2a" stroke-width="2.8"/>
<polygon points="1317.5,393 1330.5,407.5 1311,409" fill="#4a9e2a"/>
</svg>
<polygon points="1309.5,29.5 1319.5,29.5 1314.5,35" fill="#000"/>
<polygon points="8,36 15,36 11.5,40" fill="#000"/>
<svg x="5" y="590" width="1639" height="115" viewBox="5 590 1639 115" overflow="hidden">
<g shape-rendering="crispEdges">
<rect x="4" y="611" width="3" height="46" fill="#00ff00"/>
<rect x="20" y="614" width="3" height="43" fill="#00ff00"/>
<rect x="36" y="618" width="3" height="39" fill="#00ff00"/>
<rect x="52" y="620" width="3" height="37" fill="#00ff00"/>
<rect x="68" y="623" width="3" height="34" fill="#00ff00"/>
<rect x="84" y="624" width="3" height="33" fill="#00ff00"/>
<rect x="100" y="629" width="3" height="28" fill="#00ff00"/>
<rect x="116" y="634" width="3" height="23" fill="#00ff00"/>
<rect x="132" y="638" width="3" height="19" fill="#00ff00"/>
<rect x="148" y="643" width="3" height="14" fill="#00ff00"/>
<rect x="164" y="652" width="3" height="5" fill="#00ff00"/>
<rect x="180" y="657" width="3" height="7" fill="#00ff00"/>
<rect x="196" y="657" width="3" height="16" fill="#00ff00"/>
<rect x="212" y="657" width="3" height="20" fill="#00ff00"/>
<rect x="228" y="657" width="3" height="22" fill="#00ff00"/>
<rect x="244" y="657" width="3" height="23" fill="#00ff00"/>
<rect x="260" y="657" width="3" height="26" fill="#00ff00"/>
<rect x="276" y="657" width="3" height="30" fill="#00ff00"/>
<rect x="292" y="657" width="3" height="36" fill="#00ff00"/>
<rect x="308" y="657" width="3" height="39" fill="#00ff00"/>
<rect x="324" y="657" width="3" height="40" fill="#00ff00"/>
<rect x="340" y="657" width="3" height="40" fill="#00ff00"/>
<rect x="356" y="657" width="3" height="40" fill="#00ff00"/>
<rect x="372" y="657" width="3" height="43" fill="#00ff00"/>
<rect x="388" y="657" width="3" height="43" fill="#00ff00"/>
<rect x="404" y="657" width="3" height="42" fill="#00ff00"/>
<rect x="420" y="657" width="3" height="41" fill="#00ff00"/>
<rect x="436" y="657" width="3" height="39" fill="#00ff00"/>
<rect x="452" y="657" width="3" height="39" fill="#00ff00"/>
<rect x="468" y="657" width="3" height="37" fill="#00ff00"/>
<rect x="484" y="657" width="3" height="38" fill="#00ff00"/>
<rect x="500" y="657" width="3" height="38" fill="#00ff00"/>
<rect x="516" y="657" width="3" height="38" fill="#00ff00"/>
<rect x="532" y="657" width="3" height="36" fill="#00ff00"/>
<rect x="548" y="657" width="3" height="33" fill="#00ff00"/>
<rect x="564" y="657" width="3" height="32" fill="#00ff00"/>
<rect x="580" y="657" width="3" height="28" fill="#00ff00"/>
<rect x="596" y="657" width="3" height="22" fill="#00ff00"/>
<rect x="612" y="657" width="3" height="18" fill="#00ff00"/>
<rect x="628" y="657" width="3" height="15" fill="#00ff00"/>
<rect x="644" y="657" width="3" height="10" fill="#00ff00"/>
<rect x="660" y="657" width="3" height="8" fill="#00ff00"/>
<rect x="676" y="657" width="3" height="4" fill="#00ff00"/>
<rect x="692" y="655" width="3" height="2" fill="#00ff00"/>
<rect x="708" y="653" width="3" height="4" fill="#00ff00"/>
<rect x="724" y="649" width="3" height="8" fill="#00ff00"/>
<rect x="740" y="645" width="3" height="12" fill="#00ff00"/>
<rect x="756" y="642" width="3" height="15" fill="#00ff00"/>
<rect x="772" y="648" width="3" height="9" fill="#00ff00"/>
<rect x="788" y="657" width="3" height="2" fill="#00ff00"/>
<rect x="804" y="657" width="3" height="10" fill="#00ff00"/>
<rect x="820" y="657" width="3" height="16" fill="#00ff00"/>
<rect x="836" y="657" width="3" height="21" fill="#00ff00"/>
<rect x="852" y="657" width="3" height="17" fill="#00ff00"/>
<rect x="868" y="657" width="3" height="16" fill="#00ff00"/>
<rect x="884" y="657" width="3" height="15" fill="#00ff00"/>
<rect x="900" y="657" width="3" height="15" fill="#00ff00"/>
<rect x="916" y="657" width="3" height="13" fill="#00ff00"/>
<rect x="932" y="657" width="3" height="13" fill="#00ff00"/>
<rect x="948" y="657" width="3" height="12" fill="#00ff00"/>
<rect x="964" y="657" width="3" height="10" fill="#00ff00"/>
<rect x="980" y="657" width="3" height="12" fill="#00ff00"/>
<rect x="996" y="657" width="3" height="12" fill="#00ff00"/>
<rect x="1012" y="657" width="3" height="12" fill="#00ff00"/>
<rect x="1028" y="657" width="3" height="15" fill="#00ff00"/>
<rect x="1044" y="657" width="3" height="18" fill="#00ff00"/>
<rect x="1060" y="657" width="3" height="23" fill="#00ff00"/>
<rect x="1076" y="657" width="3" height="25" fill="#00ff00"/>
<rect x="1092" y="657" width="3" height="24" fill="#00ff00"/>
<rect x="1108" y="657" width="3" height="25" fill="#00ff00"/>
<rect x="1124" y="657" width="3" height="24" fill="#00ff00"/>
<rect x="1140" y="657" width="3" height="25" fill="#00ff00"/>
<rect x="1156" y="657" width="3" height="30" fill="#00ff00"/>
<rect x="1172" y="657" width="3" height="33" fill="#00ff00"/>
<rect x="1188" y="657" width="3" height="34" fill="#00ff00"/>
<rect x="1204" y="657" width="3" height="35" fill="#00ff00"/>
<rect x="1220" y="657" width="3" height="37" fill="#00ff00"/>
<rect x="1236" y="657" width="3" height="42" fill="#00ff00"/>
<rect x="1252" y="657" width="3" height="41" fill="#00ff00"/>
<rect x="1268" y="657" width="3" height="40" fill="#00ff00"/>
<rect x="1284" y="657" width="3" height="38" fill="#00ff00"/>
</g>
<polyline points="5,596.8 5.0,597.0 20.0,599.2 33.0,602.5 50.0,605.8 66.7,610.0 83.3,613.3 100.0,616.7 116.7,620.3 133.3,623.7 150.0,627.5 166.7,632.0 183.3,637.5 200.0,643.3 216.7,649.2 233.3,655.0 250.0,661.7 266.7,667.2 277.0,670.0 293.0,676.3 309.0,680.5 325.0,684.7 341.0,687.8 357.0,689.5 373.0,691.2 389.0,693.0 405.0,695.2 421.0,696.3 436.7,696.7 485.0,696.7 486.7,695.6 533.3,695.6 535.0,694.6 550.0,694.4 552.0,693.6 565.0,693.5 567.0,692.7 581.7,692.5 584.0,691.8 590.0,691.6 598.3,690.3 615.0,687.8 631.7,684.7 648.3,681.7 665.0,678.3 681.7,674.2 698.3,670.3 715.0,666.2 731.7,662.5 748.3,658.3 758.3,655.8 773.3,655.0 776.0,654.0 789.0,653.8 792.0,653.1 805.0,653.1 807.0,654.0 820.8,654.0 823.0,655.2 828.0,656.1 833.0,657.1 840.0,658.3 851.7,659.2 868.3,662.0 885.0,665.5 901.7,668.3 918.3,670.8 933.3,671.7 965.0,671.7 966.7,670.8 981.7,670.3 983.3,669.7 1013.3,669.7 1015.0,668.8 1028.3,669.2 1030.0,670.0 1045.0,670.3 1046.7,670.8 1060.0,670.8 1061.7,671.7 1076.7,672.0 1092.5,672.8 1093.3,673.7 1100.8,673.8 1101.7,674.7 1108.3,675.0 1110.0,675.8 1125.0,675.8 1125.8,676.7 1133.3,676.7 1134.2,677.8 1141.7,678.8 1156.7,678.8 1157.5,680.0 1165.8,680.8 1173.3,681.2 1181.7,682.5 1189.2,683.3 1205.0,683.8 1213.3,685.5 1221.7,686.3 1230.0,687.5 1237.5,688.7 1253.3,689.2 1261.7,690.5 1270.0,691.7 1278.3,692.8 1285.8,693.0" fill="none" stroke="#ff0000" stroke-width="2" stroke-linejoin="round" shape-rendering="crispEdges"/>
</svg>
<svg x="5" y="708" width="1639" height="122" viewBox="5 708 1639 122" overflow="hidden">
<g shape-rendering="crispEdges">
<line x1="6" y1="733.5" x2="1644" y2="733.5" stroke="#000" stroke-width="1" stroke-dasharray="3,3"/>
<line x1="6" y1="769.5" x2="1644" y2="769.5" stroke="#000" stroke-width="1" stroke-dasharray="3,3"/>
<line x1="6" y1="811.5" x2="1644" y2="811.5" stroke="#000" stroke-width="1" stroke-dasharray="3,3"/>
</g>
<polyline points="5,754.7 21,754.7 37,756.7 53,753.0 69,753.7 85,750.8 101,768.3 117,771.7 133,772.0 149,775.0 165,790.3 181,795.8 197,795.8 213,785.0 229,785.0 245,782.0 261,787.5 277,790.0 293,795.0 309,790.0 325,790.0 341,787.8 357,787.8 373,795.0 389,786.7 405,786.2 421,786.2 437,783.8 453,785.0 469,785.0 485,789.7 501,791.3 517,791.7 533,782.0 549,778.3 565,781.7 581,770.8 597,766.2 613,767.5 629,768.0 645,764.2 661,763.7 677,758.3 693,755.8 709,760.8 725,754.2 741,750.8 757,756.3 773,776.7 789,787.8 805,786.3 821,786.3 837,787.8 853,770.5 869,771.2 885,772.2 901,772.8 917,772.8 933,772.5 949,772.0 965,772.0 981,776.7 997,777.0 1013,779.7 1029,780.0 1045,785.8 1061,791.7 1077,784.2 1093,780.0 1109,782.0 1125,778.8 1141,782.2 1157,790.8 1173,790.5 1189,788.0 1205,788.0 1221,793.3 1237,798.0 1253,782.0 1269,782.0 1285,782.0" fill="none" stroke="#1e90ff" stroke-width="2" stroke-linejoin="round" shape-rendering="crispEdges"/>
</svg>
<text transform="matrix(0.93 0 0.001 1 1650.5 60)" font-size="10.0" fill="#000">1.31260</text>
<text transform="matrix(0.93 0 0.001 1 1650.5 93)" font-size="10.0" fill="#000">1.30935</text>
<text transform="matrix(0.93 0 0.001 1 1650.5 126)" font-size="10.0" fill="#000">1.30610</text>
<text transform="matrix(0.93 0 0.001 1 1650.5 159)" font-size="10.0" fill="#000">1.30290</text>
<text transform="matrix(0.93 0 0.001 1 1650.5 192)" font-size="10.0" fill="#000">1.29965</text>
<text transform="matrix(0.93 0 0.001 1 1650.5 225)" font-size="10.0" fill="#000">1.29645</text>
<text transform="matrix(0.93 0 0.001 1 1650.5 258)" font-size="10.0" fill="#000">1.29320</text>
<text transform="matrix(0.93 0 0.001 1 1650.5 291)" font-size="10.0" fill="#000">1.29000</text>
<text transform="matrix(0.93 0 0.001 1 1650.5 324)" font-size="10.0" fill="#000">1.28675</text>
<text transform="matrix(0.93 0 0.001 1 1650.5 357)" font-size="10.0" fill="#000">1.28350</text>
<text transform="matrix(0.93 0 0.001 1 1650.5 390)" font-size="10.0" fill="#000">1.28030</text>
<text transform="matrix(0.93 0 0.001 1 1650.5 423)" font-size="10.0" fill="#000">1.27705</text>
<text transform="matrix(0.93 0 0.001 1 1650.5 456)" font-size="10.0" fill="#000">1.27385</text>
<text transform="matrix(0.93 0 0.001 1 1650.5 489)" font-size="10.0" fill="#000">1.27060</text>
<text transform="matrix(0.93 0 0.001 1 1650.5 522)" font-size="10.0" fill="#000">1.26740</text>
<text transform="matrix(0.93 0 0.001 1 1650.5 555)" font-size="10.0" fill="#000">1.26415</text>
<text transform="matrix(0.93 0 0.001 1 1650.5 588)" font-size="10.0" fill="#000">1.26090</text>
<text transform="matrix(0.93 0 0.001 1 1648 600)" font-size="10.0" fill="#000">0.007427</text>
<text transform="matrix(0.93 0 0.001 1 1648 661)" font-size="10.0" fill="#000">0.00</text>
<text transform="matrix(0.93 0 0.001 1 1647.5 702)" font-size="10.0" fill="#000">-0.005226</text>
<text transform="matrix(0.93 0 0.001 1 1648.5 718)" font-size="10.0" fill="#000">100</text>
<text transform="matrix(0.93 0 0.001 1 1647 737)" font-size="10.0" fill="#000">80</text>
<text transform="matrix(0.93 0 0.001 1 1647 773)" font-size="10.0" fill="#000">50</text>
<text transform="matrix(0.93 0 0.001 1 1647 815)" font-size="10.0" fill="#000">15</text>
<text transform="matrix(0.93 0 0.001 1 1648 827)" font-size="10.0" fill="#000">0</text>
<text transform="matrix(0.93 0 0.001 1 4 843)" font-size="10.0" fill="#000">17 Jul 2023</text>
<text transform="matrix(0.93 0 0.001 1 68 843)" font-size="10.0" fill="#000">18 Jul 04:00</text>
<text transform="matrix(0.93 0 0.001 1 132 843)" font-size="10.0" fill="#000">18 Jul 20:00</text>
<text transform="matrix(0.93 0 0.001 1 196 843)" font-size="10.0" fill="#000">19 Jul 12:00</text>
<text transform="matrix(0.93 0 0.001 1 260 843)" font-size="10.0" fill="#000">20 Jul 04:00</text>
<text transform="matrix(0.93 0 0.001 1 324 843)" font-size="10.0" fill="#000">20 Jul 20:00</text>
<text transform="matrix(0.93 0 0.001 1 388 843)" font-size="10.0" fill="#000">21 Jul 12:00</text>
<text transform="matrix(0.93 0 0.001 1 452 843)" font-size="10.0" fill="#000">24 Jul 04:00</text>
<text transform="matrix(0.93 0 0.001 1 516 843)" font-size="10.0" fill="#000">24 Jul 20:00</text>
<text transform="matrix(0.93 0 0.001 1 580 843)" font-size="10.0" fill="#000">25 Jul 12:00</text>
<text transform="matrix(0.93 0 0.001 1 644 843)" font-size="10.0" fill="#000">26 Jul 04:00</text>
<text transform="matrix(0.93 0 0.001 1 708 843)" font-size="10.0" fill="#000">26 Jul 20:00</text>
<text transform="matrix(0.93 0 0.001 1 772 843)" font-size="10.0" fill="#000">27 Jul 12:00</text>
<text transform="matrix(0.93 0 0.001 1 836 843)" font-size="10.0" fill="#000">28 Jul 04:00</text>
<text transform="matrix(0.93 0 0.001 1 900 843)" font-size="10.0" fill="#000">30 Jul 23:00</text>
<text transform="matrix(0.93 0 0.001 1 964 843)" font-size="10.0" fill="#000">31 Jul 12:00</text>
<text transform="matrix(0.93 0 0.001 1 1028 843)" font-size="10.0" fill="#000">1 Aug 04:00</text>
<text transform="matrix(0.93 0 0.001 1 1092 843)" font-size="10.0" fill="#000">1 Aug 20:00</text>
<text transform="matrix(0.93 0 0.001 1 1156 843)" font-size="10.0" fill="#000">2 Aug 12:00</text>
<text transform="matrix(0.93 0 0.001 1 1220 843)" font-size="10.0" fill="#000">3 Aug 04:00</text>
<text transform="matrix(0.93 0 0.001 1 1284 843)" font-size="10.0" fill="#000">3 Aug 20:00</text>
<text transform="matrix(0.93 0 0.001 1 20.5 41)" font-size="10.0" fill="#000" xml:space="preserve">GBPUSD-,H4  1.27027 1.27108 1.27016 1.27080</text>
<text transform="matrix(0.93 0 0.001 1 9.5 602)" font-size="10.0" fill="#000">MACD(12,26,9) -0.004039 -0.003898</text>
<text transform="matrix(0.93 0 0.001 1 8.6 720)" font-size="10.0" fill="#000">RSI(14) 39.9130</text>
<rect x="1646" y="397" width="41" height="11" fill="#ff0000" shape-rendering="crispEdges"/>
<text transform="matrix(0.93 0 0.001 1 1650.5 406)" font-size="10.0" fill="#fff">1.27863</text>
<rect x="1646" y="426" width="41" height="11" fill="#ff0000" shape-rendering="crispEdges"/>
<text transform="matrix(0.93 0 0.001 1 1650.5 435)" font-size="10.0" fill="#fff">1.27579</text>
<rect x="1646" y="458" width="41" height="11" fill="#32cd32" shape-rendering="crispEdges"/>
<text transform="matrix(0.93 0 0.001 1 1650.5 467)" font-size="10.0" fill="#fff">1.27266</text>
<rect x="1646" y="478" width="41" height="11" fill="#000000" shape-rendering="crispEdges"/>
<text transform="matrix(0.93 0 0.001 1 1650.5 487)" font-size="10.0" fill="#fff">1.27080</text>
<rect x="1646" y="506" width="41" height="11" fill="#0000ff" shape-rendering="crispEdges"/>
<text transform="matrix(0.93 0 0.001 1 1650.5 515)" font-size="10.0" fill="#fff">1.26802</text>
<rect x="1646" y="535" width="41" height="11" fill="#0000ff" shape-rendering="crispEdges"/>
<text transform="matrix(0.93 0 0.001 1 1650.5 544)" font-size="10.0" fill="#fff">1.26517</text>
</svg>
</body></html>
